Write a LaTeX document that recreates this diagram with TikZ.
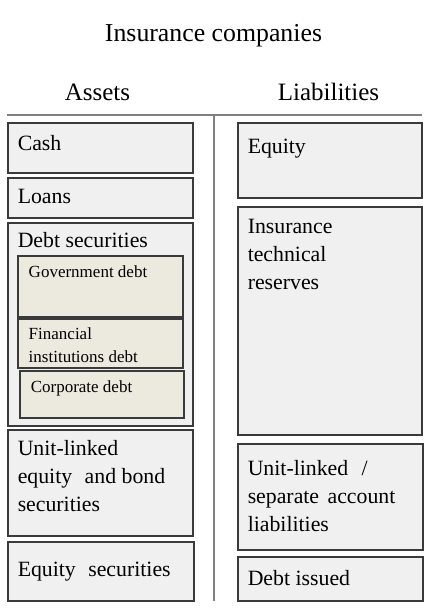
\documentclass[tikz,border=0pt]{standalone}
\usepackage{fontspec}
\setmainfont{Liberation Serif}
\usetikzlibrary{fit,calc}
\definecolor{boxGray}{HTML}{F0F0F0}
\definecolor{subBeige}{HTML}{ECE9DE}
\definecolor{edgeGray}{HTML}{3A3A3A}
\definecolor{ruleGray}{HTML}{808080}
\tikzset{
	box/.style={draw=edgeGray, fill=boxGray, line width=0.65pt, inner sep=0pt},
	subbox/.style={box, fill=subBeige},
	boxText/.style={font=\fontsize{10.9}{14}\selectfont, inner sep=0pt, align=left, anchor=base west},
	subText/.style={boxText, font=\fontsize{8.5}{11.5}\selectfont},
	heading/.style={font=\fontsize{12.5}{15}\selectfont, inner sep=0pt, anchor=base},
	rule/.style={draw=ruleGray, line width=0.8pt},
}
% last argument: baseline of the last text line, below the box top
\newcommand{\blockLabelled}[7][]{
	\node[box, #1, fit={(#2,#3) (#4,#5)}](#6){};
	\node[boxText] (#6Text) at ($(#6.north west)+(10,#7)$)
}
\newcommand{\subBlockLabelled}[7][]{
	\node[subbox, #1, fit={(#2,#3) (#4,#5)}](#6){};
	\node[subText] (#6Text) at ($(#6.north west)+(11,#7)$)
}

\begin{document}
\begin{tikzpicture}[x=0.5pt, y=-0.5pt]
	\useasboundingbox (0,0) rectangle (442,609);

	\node[heading, font=\fontsize{12.9}{15}\selectfont] (title) at (213.5,42) {Insurance companies};
	\node[heading] (assets) at (97.5,100.5) {Assets};
	\node[heading] (liabilities) at (328.5,100.5) {Liabilities};

	\coordinate (ruleL) at (7,115);
	\coordinate (ruleR) at (422,115);
	\coordinate (colTop) at (214,115);
	\coordinate (colBot) at (214,601);
	\draw[rule] (ruleL) -- (ruleR);
	\draw[rule] (colTop) -- (colBot);

	% assets
	\blockLabelled{8}{123}{193}{173}{cash}{28} {Cash};
	\blockLabelled{8}{178}{193}{218}{loans}{26} {Loans};
	\blockLabelled{8}{223}{193}{426}{debtSec}{25} {Debt securities};
	\subBlockLabelled{18}{256}{183}{317}{govDebt}{22} {Government debt};
	\subBlockLabelled{18}{319}{183}{368}{finDebt}{44} {Financial\\institutions debt};
	\subBlockLabelled{20}{371}{184}{418}{corpDebt}{22} {Corporate debt};
	\blockLabelled{8}{430}{193}{536}{unitLinked}{82.5} {Unit-linked\\equity\hspace{3.5pt} and bond\\securities};
	\blockLabelled{8}{542}{194}{601}{equitySec}{35} {Equity\hspace{3.5pt} securities};

	% liabilities
	\blockLabelled{238}{123}{422}{198}{equity}{31} {Equity};
	\blockLabelled{238}{207}{422}{435}{techReserves}{83.5} {Insurance\\technical\\reserves};
	\blockLabelled{238}{444}{423}{550}{unitLinkedLiab}{88.5} {Unit-linked\hspace{4pt} /\\separate\hspace{1.5pt} account\\liabilities};
	\blockLabelled{238}{557}{423}{601}{debtIssued}{29.5} {Debt issued};
\end{tikzpicture}
\end{document}
